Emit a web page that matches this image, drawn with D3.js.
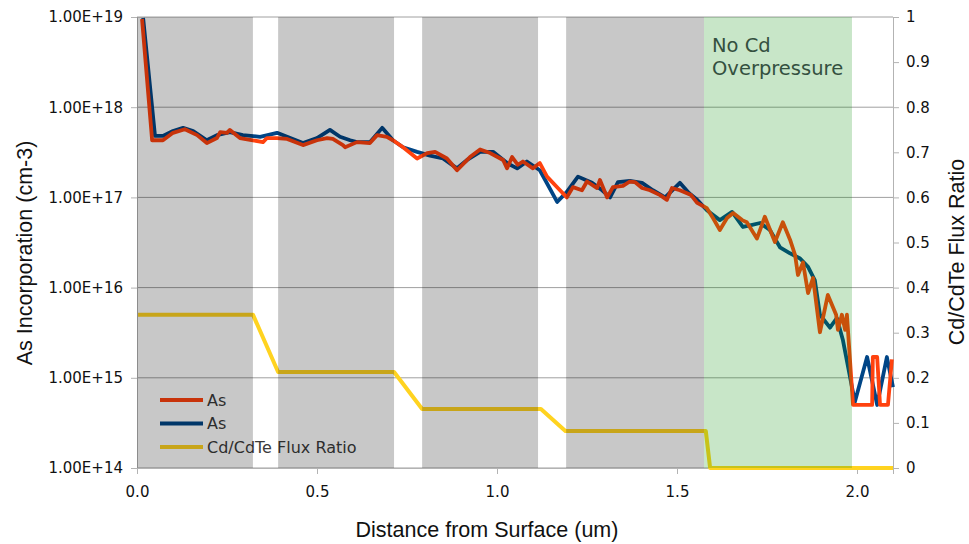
<!DOCTYPE html>
<html>
<head>
<meta charset="utf-8">
<script src="https://cdn.jsdelivr.net/npm/d3@7"></script>
<style>
    body { margin: 0; background: #fff; }
    svg text { font-family: "DejaVu Sans", "Liberation Sans", sans-serif; }
    svg text.axis-title { font-family: "Liberation Sans", Arial, sans-serif; }
</style>
</head>
<body>
<svg id="chart" width="969" height="544"></svg>
<script>
// As profile, orange trace (um, cm-3)
const depthOrange = [0.014, 0.042, 0.072, 0.1, 0.133, 0.167, 0.194, 0.222, 0.231, 0.25, 0.258, 0.286, 0.322, 0.35, 0.361,
    0.389, 0.417, 0.461, 0.5, 0.528, 0.544, 0.572, 0.578, 0.611, 0.647, 0.667, 0.694, 0.711, 0.739, 0.778, 0.806, 0.828,
    0.861, 0.889, 0.925, 0.953, 0.981, 1.017, 1.028, 1.042, 1.058, 1.072, 1.1, 1.119, 1.139, 1.169, 1.194, 1.211, 1.236,
    1.25, 1.278, 1.286, 1.306, 1.322, 1.35, 1.369, 1.383, 1.403, 1.425, 1.453, 1.472, 1.486, 1.508, 1.539, 1.556, 1.583,
    1.6, 1.619, 1.639, 1.656, 1.681, 1.694, 1.722, 1.744, 1.772, 1.794, 1.814, 1.828, 1.836, 1.85, 1.864, 1.878, 1.897,
    1.919, 1.942, 1.947, 1.958, 1.967, 1.972, 1.989, 2.042, 2.044, 2.056, 2.064, 2.086, 2.097];
const asOrange = [9.5e18, 4.3e17, 4.3e17, 5.2e17, 5.7e17, 4.9e17, 4.0e17, 4.55e17, 5.3e17, 5.2e17, 5.6e17, 4.55e17, 4.3e17, 4.1e17, 4.55e17,
    4.55e17, 4.45e17, 3.8e17, 4.3e17, 4.55e17, 4.45e17, 3.8e17, 3.6e17, 4.1e17, 4.0e17, 4.9e17, 4.7e17, 4.3e17, 3.6e17, 2.7e17, 3.1e17, 3.2e17,
    2.7e17, 2.0e17, 2.8e17, 3.4e17, 3.1e17, 2.6e17, 2.1e17, 2.8e17, 2.3e17, 2.5e17, 2.1e17, 2.4e17, 1.7e17, 1.27e17, 1.0e17, 1.3e17, 1.2e17,
    1.5e17, 1.27e17, 1.56e17, 1.0e17, 1.3e17, 1.34e17, 1.5e17, 1.48e17, 1.27e17, 1.2e17, 1.06e17, 9.4e16, 1.27e17, 1.2e17, 1.06e17, 8.7e16, 7.6e16,
    5.9e16, 4.35e16, 5.9e16, 6.7e16, 5.6e16, 5.3e16, 3.5e16, 6.1e16, 3.2e16, 5.3e16, 3.4e16, 2.3e16, 1.38e16, 1.9e16, 8.7e15, 1.28e16, 3.2e15,
    8.3e15, 5.0e15, 3.4e15, 5.0e15, 3.4e15, 5.0e15, 5.0e14, 5.0e14, 1.7e15, 1.7e15, 5.0e14, 5.0e14, 1.6e15];

// As profile, blue trace (um, cm-3)
const depthBlue = [0.017, 0.05, 0.072, 0.1, 0.128, 0.156, 0.194, 0.222, 0.258, 0.294, 0.342, 0.389, 0.417, 0.461, 0.5,
    0.536, 0.564, 0.592, 0.611, 0.647, 0.681, 0.711, 0.739, 0.778, 0.814, 0.85, 0.889, 0.917, 0.953, 0.989, 1.028, 1.056,
    1.083, 1.119, 1.167, 1.194, 1.225, 1.264, 1.292, 1.314, 1.336, 1.369, 1.403, 1.433, 1.467, 1.508, 1.533, 1.556, 1.583,
    1.619, 1.653, 1.683, 1.703, 1.731, 1.758, 1.786, 1.814, 1.842, 1.864, 1.883, 1.897, 1.925, 1.944, 1.961, 1.994, 2.028,
    2.056, 2.083, 2.1];
const asBlue = [9.75e18, 4.8e17, 4.8e17, 5.45e17, 5.9e17, 5.45e17, 4.3e17, 4.9e17, 5.3e17, 4.9e17, 4.7e17, 5.2e17, 4.7e17, 4.0e17, 4.55e17,
    5.6e17, 4.7e17, 4.3e17, 4.1e17, 4.1e17, 5.9e17, 4.3e17, 3.6e17, 3.2e17, 2.9e17, 2.7e17, 2.1e17, 2.6e17, 3.2e17, 3.2e17, 2.4e17, 2.1e17,
    2.5e17, 2.0e17, 8.9e16, 1.15e17, 1.7e17, 1.45e17, 1.2e17, 1.0e17, 1.48e17, 1.52e17, 1.45e17, 1.2e17, 1.0e17, 1.45e17, 1.12e17, 9.4e16, 7.2e16,
    5.6e16, 6.9e16, 4.7e16, 4.9e16, 5.2e16, 4.35e16, 2.8e16, 2.4e16, 2.1e16, 1.7e16, 1.2e16, 5.0e15, 3.6e15, 4.6e15, 2.6e15, 5.4e14, 1.7e15,
    5.0e14, 1.7e15, 7.9e14];

// Cd/CdTe flux ratio (right axis)
const depthFlux = [0.003, 0.322, 0.392, 0.714, 0.792, 1.122, 1.19, 1.58, 1.592, 2.1];
const fluxRatio = [0.34, 0.34, 0.213, 0.213, 0.131, 0.131, 0.082, 0.082, 0, 0];

// growth regions (um)
const grayBands = [[0, 0.322], [0.392, 0.714], [0.792, 1.114], [1.192, 1.575]];
const greenBand = [1.575, 1.986];

const leftTicks = [1e14, 1e15, 1e16, 1e17, 1e18, 1e19];
const rightTicks = [0, 0.1, 0.2, 0.3, 0.4, 0.5, 0.6, 0.7, 0.8, 0.9, 1];
const xTicks = [0, 0.5, 1, 1.5, 2];

const legendLabels = ['As', 'As', 'Cd/CdTe Flux Ratio'];
const COLOR_ORANGE = '#ff420e';
const COLOR_BLUE = '#004586';
const COLOR_YELLOW = '#ffd320';

const svg = d3.select('#chart');
const plot = { left: 137, right: 893, top: 17, bottom: 468 };

const x = d3.scaleLinear().domain([0, 2.1]).range([plot.left, plot.right]);
const yLeft = d3.scaleLog().domain([1e14, 1e19]).range([plot.bottom, plot.top]);
const yRight = d3.scaleLinear().domain([0, 1]).range([plot.bottom, plot.top]);

// grid lines
svg.append('g')
    .selectAll('line')
    .data(leftTicks)
    .enter().append('line')
    .attr('x1', plot.left).attr('x2', plot.right)
    .attr('y1', d => yLeft(d)).attr('y2', d => yLeft(d))
    .attr('stroke', '#a0a0a0').attr('stroke-width', 1);

// axes
const fmtSci = d => d.toExponential(2).toUpperCase();
const leftAxis = svg.append('g')
    .attr('transform', `translate(${plot.left},0)`)
    .call(d3.axisLeft(yLeft).tickValues(leftTicks).tickFormat(fmtSci).tickSize(6).tickPadding(8));
const rightAxis = svg.append('g')
    .attr('transform', `translate(${plot.right},0)`)
    .call(d3.axisRight(yRight).tickValues(rightTicks).tickFormat(d3.format('')).tickSize(6).tickPadding(7));
const bottomAxis = svg.append('g')
    .attr('transform', `translate(0,${plot.bottom})`)
    .call(d3.axisBottom(x).tickValues(xTicks).tickFormat(d3.format('.1f')).tickSize(6).tickPadding(12));

[leftAxis, rightAxis, bottomAxis].forEach(a => {
    a.select('.domain').attr('stroke', '#b3b3b3');
    a.selectAll('.tick line').attr('stroke', '#b3b3b3');
    a.selectAll('.tick text').attr('fill', '#111').style('font-size', '15px');
});

// data lines
const lineAs = d3.line().x(d => x(d[0])).y(d => yLeft(d[1]));
const lineFlux = d3.line().x(d => x(d[0])).y(d => yRight(d[1]));

svg.append('path')
    .datum(d3.zip(depthBlue, asBlue))
    .attr('d', lineAs)
    .attr('fill', 'none').attr('stroke', COLOR_BLUE)
    .attr('stroke-width', 3.8).attr('stroke-linejoin', 'round');

svg.append('path')
    .datum(d3.zip(depthOrange, asOrange))
    .attr('d', lineAs)
    .attr('fill', 'none').attr('stroke', COLOR_ORANGE)
    .attr('stroke-width', 3.8).attr('stroke-linejoin', 'round');

svg.append('path')
    .datum(d3.zip(depthFlux, fluxRatio))
    .attr('d', lineFlux)
    .attr('fill', 'none').attr('stroke', COLOR_YELLOW)
    .attr('stroke-width', 4).attr('stroke-linejoin', 'round');

// legend
const legendColors = [COLOR_ORANGE, COLOR_BLUE, COLOR_YELLOW];
const legend = svg.append('g').attr('transform', 'translate(160,400)');
legendLabels.forEach((label, i) => {
    const row = legend.append('g').attr('transform', `translate(0,${i * 23.5})`);
    row.append('line')
        .attr('x1', 0).attr('x2', 43)
        .attr('stroke', legendColors[i]).attr('stroke-width', 4);
    row.append('text')
        .attr('x', 47).attr('dy', '0.35em')
        .style('font-size', '16px')
        .attr('fill', '#3a3a3a')
        .text(label);
});

// translucent region overlays (drawn on top, like the original)
svg.append('g')
    .selectAll('rect')
    .data(grayBands)
    .enter().append('rect')
    .attr('x', d => x(d[0])).attr('width', d => x(d[1]) - x(d[0]))
    .attr('y', plot.top).attr('height', plot.bottom - plot.top)
    .attr('fill', 'rgba(0,0,0,0.215)');

svg.append('rect')
    .attr('x', x(greenBand[0])).attr('width', x(greenBand[1]) - x(greenBand[0]))
    .attr('y', plot.top).attr('height', plot.bottom - plot.top)
    .attr('fill', 'rgba(0,139,0,0.216)');

const note = svg.append('text')
    .attr('x', x(greenBand[0]) + 8).attr('y', 52)
    .style('font-size', '19.5px')
    .attr('fill', '#34503f');
note.append('tspan').text('No Cd');
note.append('tspan').attr('x', x(greenBand[0]) + 8).attr('dy', 23).text('Overpressure');

// axis titles
svg.append('text')
    .attr('class', 'axis-title')
    .attr('transform', 'translate(32,253) rotate(-90)')
    .attr('text-anchor', 'middle')
    .style('font-size', '21.5px')
    .attr('fill', '#111')
    .text('As Incorporation (cm-3)');

svg.append('text')
    .attr('class', 'axis-title')
    .attr('transform', 'translate(964,252) rotate(-90)')
    .attr('text-anchor', 'middle')
    .style('font-size', '21.5px')
    .attr('fill', '#111')
    .text('Cd/CdTe Flux Ratio');

svg.append('text')
    .attr('class', 'axis-title')
    .attr('x', 487).attr('y', 537)
    .attr('text-anchor', 'middle')
    .style('font-size', '21.5px')
    .attr('fill', '#111')
    .text('Distance from Surface (um)');
</script>
</body>
</html>
